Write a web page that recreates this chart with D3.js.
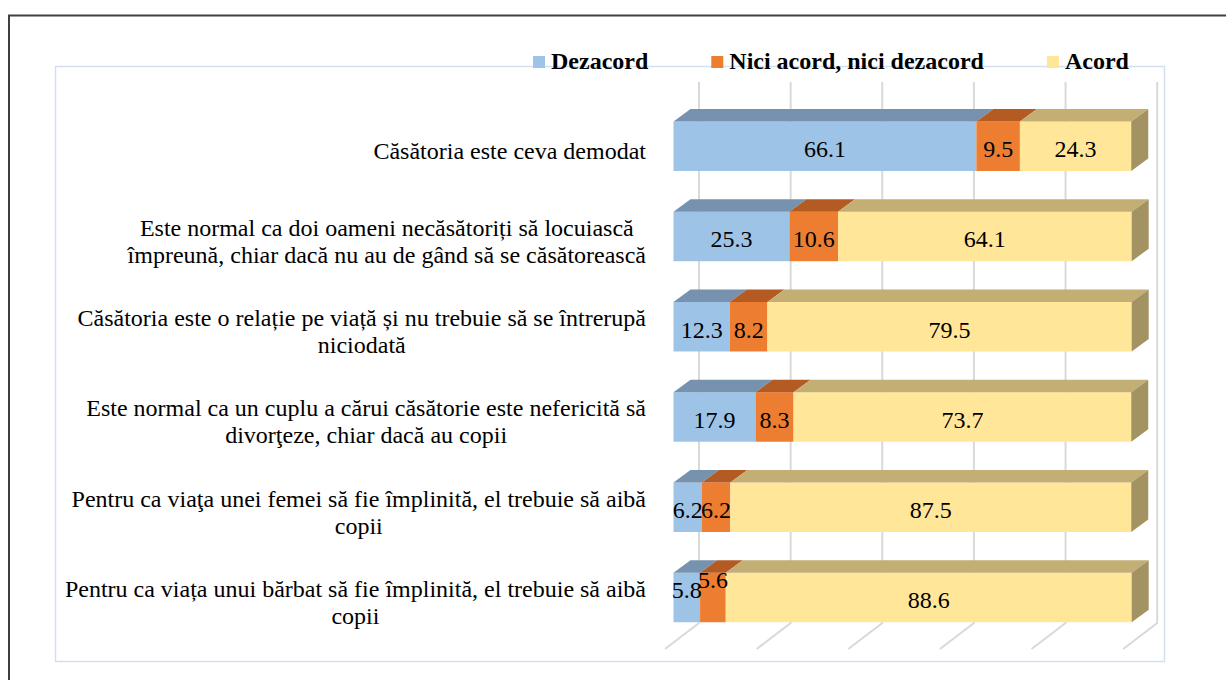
<!DOCTYPE html>
<html>
<head>
<meta charset="utf-8">
<script src="https://cdn.jsdelivr.net/npm/d3@7"></script>
<style>
  html, body { margin: 0; padding: 0; background: #fff; }
  svg { display: block; font-family: "Liberation Serif", "Times New Roman", serif; }
</style>
</head>
<body>
<svg id="chart" width="1226" height="680"></svg>
<script>
// categories (top to bottom) and series values, in percent
var categories = [
  "Căsătoria este ceva demodat",
  "Este normal ca doi oameni necăsătoriți să locuiască împreună, chiar dacă nu au de gând să se căsătorească",
  "Căsătoria este o relație pe viață și nu trebuie să se întrerupă niciodată",
  "Este normal ca un cuplu a cărui căsătorie este nefericită să divorţeze, chiar dacă au copii",
  "Pentru ca viaţa unei femei să fie împlinită, el trebuie să aibă copii",
  "Pentru ca viața unui bărbat să fie împlinită, el trebuie să aibă copii"
];
var seriesNames = ["Dezacord", "Nici acord, nici dezacord", "Acord"];
var dezacord  = [66.1, 25.3, 12.3, 17.9, 6.2, 5.8];
var niciAcord = [9.5, 10.6, 8.2, 8.3, 6.2, 5.6];
var acord     = [24.3, 64.1, 79.5, 73.7, 87.5, 88.6];
var gridTicks = [0, 20, 40, 60, 80, 100];

var colors = {
  front: ["#9dc3e6", "#ed7d31", "#ffe699"],
  top:   ["#7692ae", "#b35b23", "#c3ae74"],
  side:  ["#728daa", "#ad5720", "#a39363"]
};

var svg = d3.select('#chart');

// outer document frame
svg.append('path')
  .attr('d', 'M9,680 V15.5 H1226')
  .attr('fill', 'none').attr('stroke', '#404040').attr('stroke-width', 2);

// chart area border
svg.append('rect')
  .attr('x', 55.5).attr('y', 66.5).attr('width', 1109).attr('height', 595)
  .attr('fill', 'none').attr('stroke', '#d3e0f1').attr('stroke-width', 1.5);

var rows = categories.map(function(c, i){
  return {cat: c, Dezacord: dezacord[i], "Nici acord, nici dezacord": niciAcord[i], Acord: acord[i]};
});
var stacked = d3.stack().keys(seriesNames)(rows);

var x = d3.scaleLinear().domain([0, 100]).range([673.5, 1131.7]);
var y = d3.scaleBand().domain(categories).range([101.1, 642.6])
  .paddingInner(0.4515).paddingOuter(0.2257);

// 3D offsets
var depth = {dx: 17, dy: 12.5};   // bar depth
var wall = {dx: 25.5};            // back wall offset
var floor = {dx: 34, dy: 26, top: 82, back: 623};

// gridlines on back wall and floor
var grid = svg.append('g').attr('stroke', '#d9d9d9').attr('stroke-width', 2).attr('fill', 'none');
grid.selectAll('path.gl').data(gridTicks).enter().append('path')
  .attr('class', 'gl')
  .attr('d', function(v){
    var gx = x(v) + wall.dx;
    return 'M' + gx + ',' + floor.top + ' V' + floor.back +
      ' L' + (gx - floor.dx) + ',' + (floor.back + floor.dy);
  });

// bars
var bars = svg.append('g');
categories.forEach(function(cat, ci){
  var y0 = y(cat), h = y.bandwidth();
  var g = bars.append('g');
  stacked.forEach(function(s, si){
    var d = s[ci], x0 = x(d[0]), x1 = x(d[1]);
    g.append('rect')
      .attr('x', x0).attr('y', y0).attr('width', x1 - x0).attr('height', h)
      .attr('fill', colors.front[si]);
    g.append('path')
      .attr('d', 'M' + x0 + ',' + y0 + ' L' + x1 + ',' + y0 +
        ' L' + (x1 + depth.dx) + ',' + (y0 - depth.dy) +
        ' L' + (x0 + depth.dx) + ',' + (y0 - depth.dy) + 'Z')
      .attr('fill', colors.top[si]);
    if (si === stacked.length - 1) {
      g.append('path')
        .attr('d', 'M' + x1 + ',' + y0 + ' L' + (x1 + depth.dx) + ',' + (y0 - depth.dy) +
          ' L' + (x1 + depth.dx) + ',' + (y0 + h - depth.dy) + ' L' + x1 + ',' + (y0 + h) + 'Z')
        .attr('fill', colors.side[si]);
    }
  });
});

// data labels (Excel nudged the two crowded ones in the last row)
var nudge = {"5|0": -10, "5|1": -20};
var labels = svg.append('g').attr('font-size', 24).attr('fill', '#000').attr('text-anchor', 'middle');
categories.forEach(function(cat, ci){
  stacked.forEach(function(s, si){
    var d = s[ci];
    labels.append('text')
      .attr('x', (x(d[0]) + x(d[1])) / 2)
      .attr('y', y(cat) + y.bandwidth() / 2 + 11 + (nudge[ci + '|' + si] || 0))
      .text(d3.format('.1f')(d[1] - d[0]));
  });
});

// category labels, wrapped and right-aligned as a block at the axis
var axisRight = 646, wrapWidth = 590, lineH = 27;
var catG = svg.append('g').attr('font-size', 24).attr('fill', '#000').attr('text-anchor', 'middle');
categories.forEach(function(cat, ci){
  var words = cat.split(' '), lines = [], cur = '';
  var probe = catG.append('text');
  words.forEach(function(w){
    var test = cur ? cur + ' ' + w : w;
    probe.text(test);
    if (probe.node().getComputedTextLength() > wrapWidth && cur) {
      lines.push(cur); cur = w;
    } else cur = test;
  });
  lines.push(cur);
  var maxW = 0;
  lines.forEach(function(l){
    probe.text(l);
    maxW = Math.max(maxW, probe.node().getComputedTextLength());
  });
  probe.remove();
  var cx = axisRight - maxW / 2;
  var cy = y(cat) + y.bandwidth() / 2 + 13;
  lines.forEach(function(l, li){
    catG.append('text')
      .attr('x', cx)
      .attr('y', cy + (li - (lines.length - 1) / 2) * lineH)
      .text(l);
  });
});

// legend
var legend = svg.append('g').attr('font-size', 24).attr('font-weight', 'bold');
var lx = 533;
seriesNames.forEach(function(name, i){
  legend.append('rect').attr('x', lx).attr('y', 56).attr('width', 12).attr('height', 12)
    .attr('fill', colors.front[i]);
  var t = legend.append('text').attr('x', lx + 18).attr('y', 68.5).text(name);
  lx += 18 + t.node().getComputedTextLength() + 63;
});
</script>
</body>
</html>
